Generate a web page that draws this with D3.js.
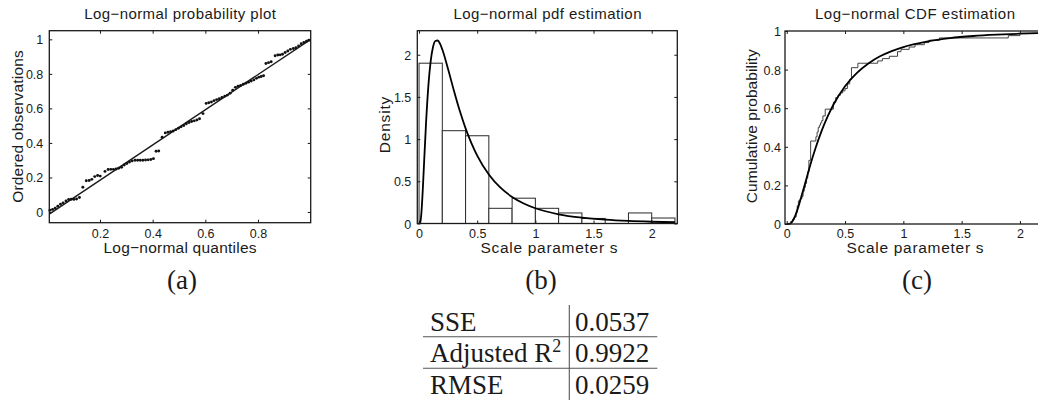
<!DOCTYPE html>
<html><head><meta charset="utf-8">
<script src="https://cdn.jsdelivr.net/npm/d3@7"></script>
<style>body{margin:0;background:#fff} svg{display:block}</style>
</head><body>
<svg id="c" width="1038" height="403"></svg>
<script>
// ---------- data ----------
// (a) probability plot: log-normal quantiles vs ordered observations
const ppX = [0.010,0.020,0.030,0.040,0.050,0.060,0.071,0.081,0.091,0.101,0.111,0.122,0.135,0.148,0.159,0.169,0.180,0.191,0.201,0.219,0.231,0.241,0.251,0.261,0.271,0.282,0.292,0.302,0.312,0.322,0.333,0.343,0.353,0.363,0.373,0.383,0.393,0.403,0.413,0.423,0.436,0.448,0.458,0.468,0.478,0.488,0.498,0.508,0.518,0.528,0.538,0.548,0.558,0.568,0.578,0.591,0.603,0.613,0.623,0.633,0.643,0.653,0.663,0.674,0.684,0.694,0.704,0.714,0.724,0.734,0.744,0.754,0.764,0.774,0.784,0.794,0.803,0.812,0.821,0.830,0.840,0.850,0.865,0.875,0.884,0.893,0.903,0.913,0.923,0.934,0.944,0.954,0.964,0.974,0.984,0.993];
const ppY = [0.010,0.015,0.022,0.033,0.045,0.053,0.064,0.072,0.074,0.073,0.075,0.084,0.143,0.181,0.182,0.189,0.205,0.211,0.208,0.235,0.246,0.247,0.247,0.249,0.253,0.259,0.272,0.281,0.289,0.296,0.300,0.300,0.300,0.300,0.301,0.302,0.304,0.309,0.352,0.353,0.433,0.458,0.462,0.465,0.469,0.477,0.485,0.493,0.501,0.511,0.518,0.524,0.528,0.533,0.540,0.570,0.629,0.633,0.637,0.645,0.651,0.656,0.663,0.671,0.677,0.688,0.705,0.722,0.728,0.733,0.740,0.746,0.752,0.758,0.765,0.774,0.781,0.785,0.789,0.860,0.865,0.870,0.905,0.909,0.910,0.914,0.924,0.932,0.942,0.947,0.951,0.962,0.974,0.982,0.989,0.995];
const ppLineX = [0.0076, 1.0];
const ppLineY = [-0.012, 1.0];
const aXTicks = [0.2, 0.4, 0.6, 0.8];
const aYTicks = [0, 0.2, 0.4, 0.6, 0.8, 1];

// (b) histogram + fitted pdf
const binStart = [0, 0.2, 0.4, 0.6, 0.8, 1.0, 1.2, 1.4, 1.6, 1.8, 2.0];
const binEnd   = [0.2, 0.4, 0.6, 0.8, 1.0, 1.2, 1.4, 1.6, 1.8, 2.0, 2.2];
const binDensity = [1.9, 1.1, 1.04, 0.18, 0.30, 0.18, 0.125, 0.06, 0, 0.125, 0.065];
const pdfX = [0, 0.01, 0.02, 0.03, 0.04, 0.06, 0.08, 0.10, 0.12, 0.14, 0.16, 0.18, 0.20, 0.25, 0.30, 0.35, 0.40, 0.45, 0.50, 0.60, 0.70, 0.80, 0.90, 1.0, 1.2, 1.4, 1.6, 1.8, 2.0, 2.2];
const pdfY = [0, 0.012, 0.122, 0.344, 0.624, 1.187, 1.628, 1.922, 2.091, 2.163, 2.169, 2.131, 2.062, 1.828, 1.573, 1.335, 1.128, 0.953, 0.805, 0.581, 0.424, 0.315, 0.237, 0.181, 0.109, 0.069, 0.045, 0.030, 0.021, 0.015];
const bXTicks = [0, 0.5, 1, 1.5, 2];
const bYTicks = [0, 0.5, 1, 1.5, 2];

// (c) empirical CDF + fitted CDF
const cdfX = [0, 0.02, 0.04, 0.06, 0.08, 0.10, 0.12, 0.14, 0.16, 0.18, 0.20, 0.25, 0.30, 0.35, 0.40, 0.50, 0.60, 0.70, 0.80, 0.90, 1.0, 1.2, 1.4, 1.6, 1.8, 2.0, 2.2];
const cdfY = [0, 0.0006, 0.0077, 0.026, 0.054, 0.090, 0.131, 0.173, 0.216, 0.259, 0.302, 0.399, 0.484, 0.556, 0.618, 0.714, 0.782, 0.832, 0.869, 0.896, 0.917, 0.945, 0.963, 0.974, 0.981, 0.986, 0.990];
const ecdfX = [0.03, 0.05, 0.065, 0.08, 0.09, 0.10, 0.115, 0.13, 0.14, 0.15, 0.16, 0.17, 0.18, 0.19, 0.205, 0.25, 0.26, 0.27, 0.28, 0.29, 0.30, 0.31, 0.33, 0.40, 0.42, 0.44, 0.46, 0.48, 0.50, 0.52, 0.54, 0.555, 0.61, 0.78, 0.82, 0.88, 0.95, 0.98, 1.05, 1.1, 1.18, 1.22, 1.31, 1.9, 2.0, 2.2];
const ecdfY = [0.012, 0.024, 0.036, 0.06, 0.095, 0.12, 0.131, 0.143, 0.17, 0.19, 0.21, 0.238, 0.27, 0.33, 0.43, 0.452, 0.476, 0.5, 0.512, 0.524, 0.536, 0.56, 0.595, 0.631, 0.655, 0.667, 0.679, 0.69, 0.702, 0.726, 0.75, 0.81, 0.833, 0.845, 0.857, 0.869, 0.893, 0.905, 0.917, 0.929, 0.94, 0.952, 0.964, 0.976, 0.988, 1.0];
const cXTicks = [0, 0.5, 1, 1.5, 2];
const cYTicks = [0, 0.2, 0.4, 0.6, 0.8, 1];

// text
const titles = ["Log\u2212normal probability plot", "Log\u2212normal pdf estimation", "Log\u2212normal CDF estimation"];
const xLabels = ["Log\u2212normal quantiles", "Scale parameter s", "Scale parameter s"];
const yLabels = ["Ordered observations", "Density", "Cumulative probability"];
const captions = ["(a)", "(b)", "(c)"];
const tableNames = ["SSE", "Adjusted R", "RMSE"];
const tableSup = ["", "2", ""];
const tableValues = ["0.0537", "0.9922", "0.0259"];

// ---------- drawing ----------
const svg = d3.select("#c");
const SANS = "'Liberation Sans', Arial, Helvetica, sans-serif";
const SERIF = "'Liberation Serif', 'Times New Roman', serif";
const INK = "#1a1a1a";

function panel(p) {
  const x = d3.scaleLinear().domain(p.xDomain).range([p.left, p.right]);
  const y = d3.scaleLinear().domain(p.yDomain).range([p.bottom, p.top]);
  const g = svg.append("g");
  const fmt = d => String(d);
  const dataG = g.append("g");

  // axes (ticks inward, mirrored)
  const ax = g.append("g").attr("transform", `translate(0,${p.bottom})`)
    .call(d3.axisBottom(x).tickValues(p.xTicks).tickFormat(fmt).tickSize(-3));
  ax.selectAll("text").attr("y", 237.8 - p.bottom).attr("dy", 0);
  const ay = g.append("g").attr("transform", `translate(${p.left},0)`)
    .call(d3.axisLeft(y).tickValues(p.yTicks).tickFormat(fmt).tickSize(-3));
  ay.selectAll("text").attr("x", -p.yGap).attr("dy", "0.36em");
  g.append("g").attr("transform", `translate(0,${p.top})`)
    .call(d3.axisTop(x).tickValues(p.xTicks).tickFormat("").tickSize(-3));
  g.append("g").attr("transform", `translate(${p.right},0)`)
    .call(d3.axisRight(y).tickValues(p.yTicks).tickFormat("").tickSize(-3));
  g.selectAll(".domain").remove();
  g.selectAll(".tick line").attr("stroke", INK).attr("stroke-width", 1);
  g.selectAll(".tick text").attr("font-family", SANS).attr("font-size", 12.5).attr("fill", INK);

  g.append("rect").attr("x", p.left).attr("y", p.top)
    .attr("width", p.right - p.left).attr("height", p.bottom - p.top)
    .attr("fill", "none").attr("stroke", INK).attr("stroke-width", 1.3);

  // title & labels
  g.append("text").attr("x", p.titleX).attr("y", 18.8).attr("text-anchor", "middle")
    .attr("font-family", SANS).attr("font-size", 15).attr("fill", INK)
    .attr("textLength", p.titleLen).attr("lengthAdjust", "spacing").text(p.title);
  g.append("text").attr("x", p.xLabelX).attr("y", 253).attr("text-anchor", "middle")
    .attr("font-family", SANS).attr("font-size", 15.5).attr("fill", INK)
    .attr("textLength", p.xLabelLen).attr("lengthAdjust", "spacing").text(p.xLabel);
  g.append("text").attr("transform", `translate(${p.yLabelX},${p.yLabelY}) rotate(-90)`)
    .attr("text-anchor", "middle")
    .attr("font-family", SANS).attr("font-size", 15.5).attr("fill", INK)
    .attr("textLength", p.yLabelLen).attr("lengthAdjust", "spacing").text(p.yLabel);
  // caption
  svg.append("text").attr("x", p.capX).attr("y", 289.3).attr("text-anchor", "middle")
    .attr("font-family", SERIF).attr("font-size", 27).attr("fill", INK).text(p.caption);

  return {x, y, g: dataG};
}

// Panel (a)
const A = panel({left: 49.3, right: 310.7, top: 30.7, bottom: 222.7,
  xDomain: [0.0076, 1.0], yDomain: [-0.062, 1.05], xTicks: aXTicks, yTicks: aYTicks, yGap: 6,
  title: titles[0], titleX: 180, titleLen: 191.7,
  xLabel: xLabels[0], xLabelX: 180, xLabelLen: 153,
  yLabel: yLabels[0], yLabelX: 22.7, yLabelY: 126.5, yLabelLen: 152.7,
  caption: captions[0], capX: 182});
A.g.append("path")
  .attr("d", d3.line().x((d, i) => A.x(ppLineX[i])).y((d, i) => A.y(ppLineY[i]))(ppLineX))
  .attr("fill", "none").attr("stroke", INK).attr("stroke-width", 1.4);
A.g.selectAll("circle").data(ppX).join("circle")
  .attr("cx", d => A.x(d)).attr("cy", (d, i) => A.y(ppY[i])).attr("r", 1.45).attr("fill", "#111");

// Panel (b)
const B = panel({left: 417.3, right: 677.3, top: 30.7, bottom: 223.5,
  xDomain: [-0.015, 2.22], yDomain: [0, 2.285], xTicks: bXTicks, yTicks: bYTicks, yGap: 6,
  title: titles[1], titleX: 547.5, titleLen: 188,
  xLabel: xLabels[1], xLabelX: 549, xLabelLen: 137,
  yLabel: yLabels[1], yLabelX: 390, yLabelY: 125, yLabelLen: 56.7,
  caption: captions[1], capX: 541});
B.g.selectAll("rect.bar").data(binStart).join("rect").attr("class", "bar")
  .attr("x", d => B.x(d)).attr("width", (d, i) => B.x(binEnd[i]) - B.x(d))
  .attr("y", (d, i) => B.y(binDensity[i])).attr("height", (d, i) => B.y(0) - B.y(binDensity[i]))
  .attr("fill", "#fff").attr("stroke", "#2a2a2a").attr("stroke-width", 1);
B.g.append("path")
  .attr("d", d3.line().curve(d3.curveMonotoneX).x((d, i) => B.x(pdfX[i])).y((d, i) => B.y(pdfY[i]))(pdfX))
  .attr("fill", "none").attr("stroke", "#000").attr("stroke-width", 1.8);

// Panel (c)
const C = panel({left: 785, right: 1045.6, top: 31, bottom: 224,
  xDomain: [-0.015, 2.22], yDomain: [0, 1.0], xTicks: cXTicks, yTicks: cYTicks, yGap: 4,
  title: titles[2], titleX: 915, titleLen: 200,
  xLabel: xLabels[2], xLabelX: 915, xLabelLen: 137,
  yLabel: yLabels[2], yLabelX: 756.7, yLabelY: 126.3, yLabelLen: 154,
  caption: captions[2], capX: 917});
C.g.append("path")
  .attr("d", d3.line().curve(d3.curveStepAfter).x((d, i) => C.x(ecdfX[i])).y((d, i) => C.y(ecdfY[i]))(ecdfX))
  .attr("fill", "none").attr("stroke", "#444").attr("stroke-width", 1);
C.g.append("path")
  .attr("d", d3.line().curve(d3.curveMonotoneX).x((d, i) => C.x(cdfX[i])).y((d, i) => C.y(cdfY[i]))(cdfX))
  .attr("fill", "none").attr("stroke", "#000").attr("stroke-width", 1.8);

// ---------- table ----------
const tbl = svg.append("g");
const rowBase = [330.7, 362.3, 394];
const ruleY = [336.7, 368.3];
tbl.selectAll("line.h").data(ruleY).join("line").attr("class", "h")
  .attr("x1", 423).attr("x2", 657.3).attr("y1", d => d).attr("y2", d => d)
  .attr("stroke", "#555").attr("stroke-width", 1.1);
tbl.append("line").attr("x1", 569.3).attr("x2", 569.3).attr("y1", 305).attr("y2", 400)
  .attr("stroke", "#555").attr("stroke-width", 1.1);
tableNames.forEach((nm, i) => {
  const t = tbl.append("text").attr("x", 430).attr("y", rowBase[i])
    .attr("font-family", SERIF).attr("font-size", 27).attr("fill", INK).text(nm);
  if (tableSup[i]) t.append("tspan").attr("font-size", 18).attr("dy", -10).text(tableSup[i]);
  tbl.append("text").attr("x", 575).attr("y", rowBase[i])
    .attr("font-family", SERIF).attr("font-size", 27).attr("fill", INK).text(tableValues[i]);
});
</script>
</body></html>
